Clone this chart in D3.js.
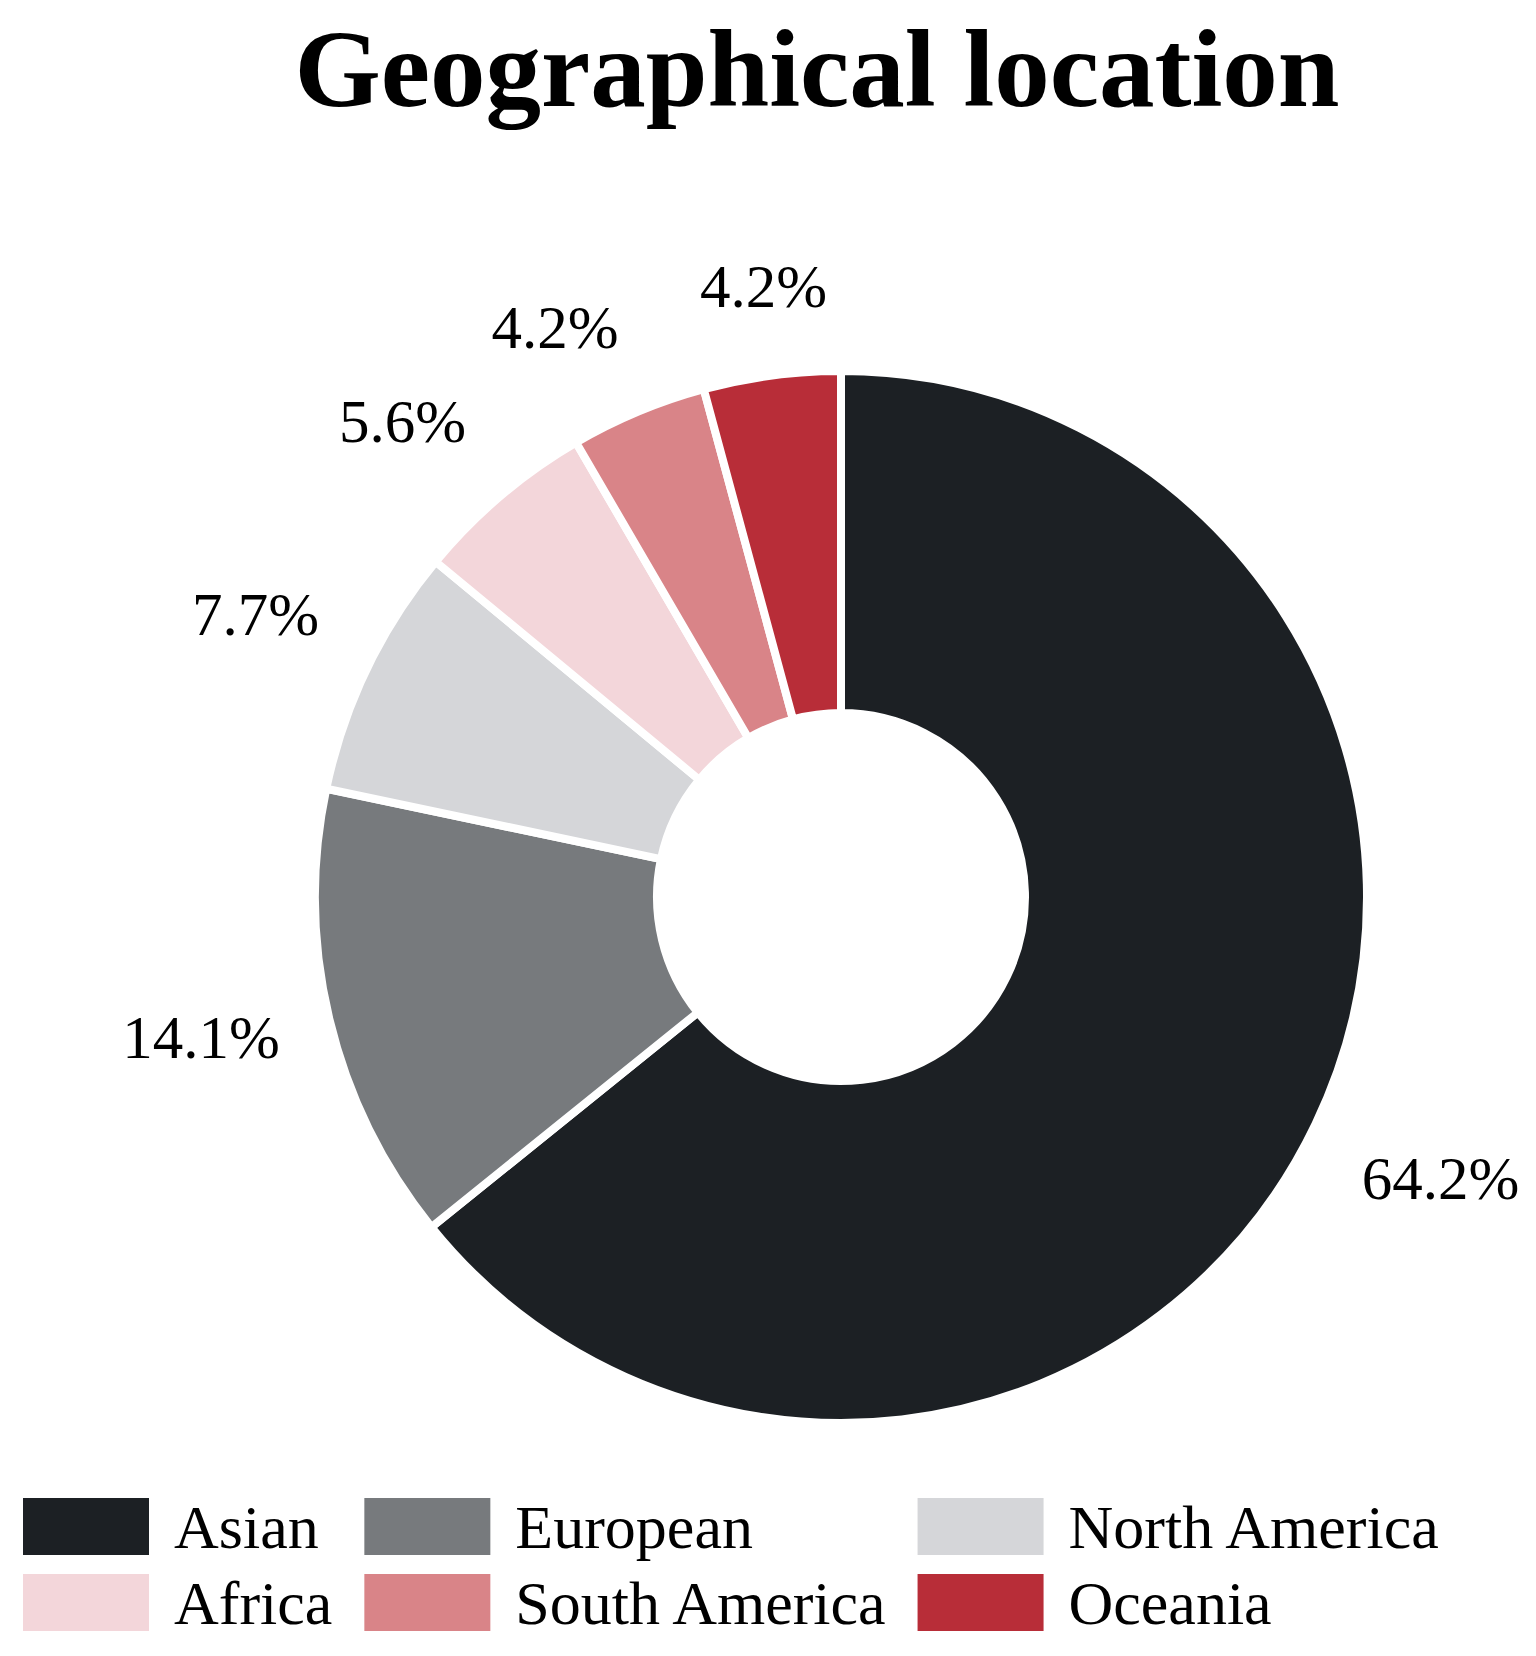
<!DOCTYPE html>
<html>
<head>
<meta charset="utf-8">
<script src="https://cdn.jsdelivr.net/npm/d3@7"></script>
<style>
    body { margin: 0; background: #fff; }
    text { font-family: "Liberation Serif", "Times New Roman", serif; fill: #000; }
</style>
</head>
<body>
<div id="chart"></div>
<script>
const regions = ["Asian", "European", "North America", "Africa", "South America", "Oceania"];
const shares = [64.2, 14.1, 7.7, 5.6, 4.2, 4.2];
const colors = ["#1c2024", "#777a7d", "#d5d6d9", "#f3d6da", "#d98488", "#b82d38"];

const width = 1536;
const height = 1656;
const cx = 841, cy = 897;
const outerR = 526, innerR = 184;
const labelR = 589;

const svg = d3.select("#chart").append("svg")
    .attr("width", width)
    .attr("height", height);

svg.append("rect").attr("width", width).attr("height", height).attr("fill", "#fff");

// Titel
svg.append("text")
    .attr("x", 817)
    .attr("y", 106)
    .attr("text-anchor", "middle")
    .style("font-size", "111px")
    .style("font-weight", "bold")
    .text("Geographical location");

const color = d3.scaleOrdinal().domain(regions).range(colors);

const data = regions.map((r, i) => ({ name: r, value: shares[i] }));

const pie = d3.pie().sort(null).value(d => d.value);
const arc = d3.arc().innerRadius(innerR).outerRadius(outerR);

const g = svg.append("g").attr("transform", `translate(${cx},${cy})`);

const arcs = pie(data);

g.selectAll("path.slice")
    .data(arcs)
    .enter().append("path")
    .attr("class", "slice")
    .attr("d", arc)
    .attr("fill", d => color(d.data.name))
    .attr("stroke", "#fff")
    .attr("stroke-width", 8)
    .attr("stroke-linejoin", "miter");

// labels sit outside the ring, box pushed away from the point on labelR
function push(s) {
    const t = Math.max(0, Math.min(1, (Math.abs(s) - 0.2) / 0.2));
    return Math.sign(s) * t * t * (3 - 2 * t);
}

const lbl = g.selectAll("text.pct")
    .data(arcs)
    .enter().append("text")
    .attr("class", "pct")
    .style("font-size", "61px")
    .attr("text-anchor", "middle")
    .text(d => d.data.value.toFixed(1) + "%");

lbl.each(function(d) {
    const a = (d.startAngle + d.endAngle) / 2;
    const w = this.getComputedTextLength();
    const h = 54;
    const sx = Math.sin(a), sy = -Math.cos(a);
    const x = sx * labelR + push(sx) * w / 2 * (1 - 0.15 * Math.abs(sx));
    const y = sy * labelR + push(sy) * h / 2;
    d3.select(this).attr("x", x).attr("y", y + 21);
});

// Legend
const legendCols = 3;
const swW = 126, swH = 57;
const rowY = [1498, 1574];
const textGap = 25, colGap = 32;
const legendX0 = 23;

const legend = svg.append("g").attr("class", "legend");

// breedte per kolom meten
const tmp = svg.append("text").style("font-size", "62px");
const widths = regions.map(r => { tmp.text(r); return tmp.node().getComputedTextLength(); });
tmp.remove();

const colX = [];
let xx = legendX0;
for (let c = 0; c < legendCols; c++) {
    colX.push(xx);
    let maxW = 0;
    regions.forEach((r, i) => { if (i % legendCols === c) maxW = Math.max(maxW, widths[i]); });
    xx += swW + textGap + maxW + colGap;
}

const item = legend.selectAll("g.item")
    .data(regions)
    .enter().append("g")
    .attr("class", "item")
    .attr("transform", (d, i) => `translate(${colX[i % legendCols]},${rowY[Math.floor(i / legendCols)]})`);

item.append("rect")
    .attr("width", swW)
    .attr("height", swH)
    .attr("fill", d => color(d));

item.append("text")
    .attr("x", swW + textGap)
    .attr("y", 50)
    .style("font-size", "62px")
    .text(d => d);
</script>
</body>
</html>
